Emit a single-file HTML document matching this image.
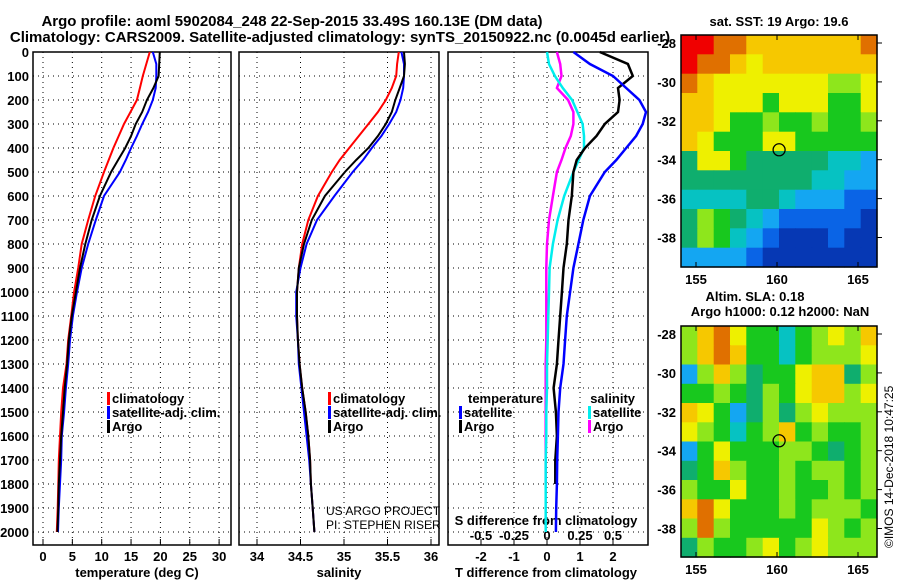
<!DOCTYPE html>
<html><head><meta charset="utf-8">
<style>
body{margin:0;background:#fff;}
svg text{font-family:"Liberation Sans",Arial,sans-serif;font-weight:bold;fill:#000;}
</style></head>
<body>
<svg id="c" width="900" height="580" viewBox="0 0 900 580" xmlns="http://www.w3.org/2000/svg">
<text x="292" y="26" font-size="15" text-anchor="middle">Argo profile: aoml 5902084_248 22-Sep-2015 33.49S 160.13E (DM data)</text>
<text x="340" y="42" font-size="15" text-anchor="middle">Climatology: CARS2009. Satellite-adjusted climatology: synTS_20150922.nc (0.0045d earlier)</text>
<text x="779" y="26" font-size="13" text-anchor="middle">sat. SST: 19 Argo: 19.6</text>
<text x="755" y="301" font-size="13" text-anchor="middle">Altim. SLA: 0.18</text>
<text x="780" y="316" font-size="13" text-anchor="middle">Argo h1000: 0.12 h2000: NaN</text>
<text transform="translate(893,548) rotate(-90)" font-size="12" style="font-weight:normal">©IMOS 14-Dec-2018 10:47:25</text>
<g id="g"></g>
</svg>
<script>
const depths=[0,50,100,150,200,250,300,350,400,450,500,600,700,800,900,1000,1100,1200,1300,1400,1500,1600,1700,1800,1900,2000];
const tempClim=[18.2,17.6,17.0,16.5,16.0,14.9,13.8,12.9,12.0,11.2,10.4,8.9,7.7,6.6,6.0,5.3,4.8,4.3,4.0,3.4,3.1,2.9,2.7,2.6,2.5,2.35];
const tempSat=[18.7,19.3,19.3,19.2,18.7,17.9,16.9,16.0,15.0,14.1,13.1,10.4,9.0,7.7,6.6,5.8,5.1,4.6,4.3,3.9,3.6,3.2,3.1,2.9,2.7,2.55];
const tempArgo=[19.9,19.8,19.7,18.8,17.7,16.9,15.8,15.0,14.0,12.8,11.6,9.7,8.3,7.2,6.3,5.6,4.9,4.4,4.1,3.7,3.4,3.1,2.9,2.7,2.6,2.45];
const salClim=[35.63,35.61,35.60,35.55,35.48,35.39,35.28,35.17,35.06,34.95,34.86,34.70,34.59,34.52,34.48,34.46,34.46,34.47,34.49,34.52,34.56,34.59,34.61,34.62,34.64,34.66];
const salSat=[35.66,35.69,35.69,35.68,35.65,35.60,35.52,35.43,35.32,35.22,35.10,34.89,34.69,34.57,34.50,34.45,34.45,34.47,34.48,34.51,34.54,34.57,34.60,34.62,34.64,34.66];
const salArgo=[35.69,35.70,35.69,35.64,35.59,35.55,35.48,35.39,35.28,35.14,35.01,34.78,34.63,34.54,34.48,34.46,34.46,34.47,34.49,34.52,34.56,34.59,34.61,34.62,34.64,34.66];
const dTSat=[0.8,1.3,2.0,2.4,2.8,3.0,2.9,2.7,2.4,2.1,1.75,1.3,1.1,0.95,0.8,0.7,0.6,0.55,0.5,0.4,0.35,0.33,0.31,0.3,0.28,0.27];
const dTArgo=[1.6,2.45,2.6,2.15,2.2,2.15,1.75,1.5,1.15,0.9,0.8,0.75,0.65,0.6,0.5,0.45,0.4,0.35,0.3,0.2,0.27,0.3,0.25,0.25];
const dSSat=[0,0.015,0.06,0.12,0.19,0.23,0.27,0.28,0.28,0.24,0.2,0.13,0.08,0.045,0.02,0.015,0.01,0.005,0,0,-0.005,-0.005,-0.01,-0.01,-0.01,-0.01];
const dSArgo=[0.075,0.1,0.11,0.075,0.16,0.2,0.2,0.18,0.14,0.11,0.075,0.045,0.015,0,-0.005,-0.005,-0.005,-0.005,-0.01,-0.01,-0.01,-0.01,-0.01,-0.01];
const depthTicks=[0,100,200,300,400,500,600,700,800,900,1000,1100,1200,1300,1400,1500,1600,1700,1800,1900,2000];
const tempTicks=[0,5,10,15,20,25,30];
const salTicks=[34,34.5,35,35.5,36];
const salTickLabels=["34","34.5","35","35.5","36"];
const dTTicks=[-2,-1,0,1,2];
const dSTicks=[-0.5,-0.25,0,0.25,0.5];
const dSTickLabels=["-0.5","-0.25","0","0.25","0.5"];
const lonTicks=[155,160,165];
const latTicks=[-28,-30,-32,-34,-36,-38];
const sstGrid=[
[10,10,9,9,8,8,8,8,8,8,8,9],
[10,9,9,8,7,8,8,8,8,8,8,8],
[9,8,7,7,7,7,7,7,7,6,6,7],
[8,8,7,7,7,5,7,7,7,5,5,7],
[8,8,7,5,5,6,5,5,6,5,5,6],
[8,7,5,5,5,7,7,5,5,5,5,5],
[4,7,7,5,4,4,4,4,4,3,3,2],
[4,4,4,4,4,4,4,4,3,3,2,2],
[3,3,3,3,4,4,3,2,2,2,1,1],
[4,6,5,4,3,2,1,1,1,1,1,0],
[4,6,5,3,2,1,0,0,0,1,0,0],
[2,2,2,2,1,0,0,0,0,0,0,0]];
const slaGrid=[
[6,8,9,7,5,5,3,5,6,7,6,8],
[6,8,9,8,5,5,3,5,6,6,6,7],
[2,6,8,6,4,5,5,7,8,8,4,6],
[5,5,6,5,4,6,5,7,8,8,6,7],
[8,7,5,2,4,6,4,6,7,6,6,6],
[7,6,5,3,5,6,8,5,6,5,5,6],
[2,5,7,5,5,5,6,6,5,4,5,6],
[4,5,8,6,5,5,6,5,6,6,5,6],
[6,5,5,7,5,5,6,5,5,6,5,6],
[8,9,7,5,5,5,6,5,6,6,6,5],
[6,9,6,5,5,5,5,5,7,6,5,6],
[4,6,5,5,6,7,5,6,7,6,6,6]];
const palette=["#0638b4","#0a64e6","#14a6f2","#06c2c2","#0fae6e","#18c81e","#8ee61c","#eef000","#f6c800","#e07000","#f00000"];

const NS="http://www.w3.org/2000/svg";
const G=document.getElementById('g');
function el(tag,attrs,parent){const e=document.createElementNS(NS,tag);for(const k in attrs)e.setAttribute(k,attrs[k]);(parent||G).appendChild(e);return e;}
const yD=d=>52+d*0.24;
const P1={l:33,r:231},P2={l:239,r:439},P3={l:448,r:648};
const xT=v=>43+v*5.87;
const xS=v=>257+(v-34)*87;
const xdT=v=>547+v*33;
const xdS=v=>547+v*132;

function frame(p,name){
  const r=el('rect',{x:p.l,y:52,width:p.r-p.l,height:493,fill:'none',stroke:'#000','stroke-width':1.5});
  
  
  depthTicks.forEach(d=>{
    const l=el('line',{x1:p.l,x2:p.r,y1:yD(d),y2:yD(d),stroke:'#000','stroke-width':1,'stroke-dasharray':'1,4'});
    
    
  });
}
function vgrid(ticks,fx,p,labels,ly,name){
  ticks.forEach((t,i)=>{
    const x=fx(t);
    const l=el('line',{x1:x,x2:x,y1:52,y2:545,stroke:'#000','stroke-width':1,'stroke-dasharray':'1,4'});
    
    
    const tk=el('line',{x1:x,x2:x,y1:539,y2:545,stroke:'#000'});
    
    
    const tx=el('text',{x:x,y:ly,'font-size':13,'text-anchor':'middle'});
    tx.textContent=labels?labels[i]:String(t);
    
    
  });
}
frame(P1,'temperature-panel');frame(P2,'salinity-panel');frame(P3,'difference-panel');
vgrid(tempTicks,xT,P1,null,561,'temperature-x');
vgrid(salTicks,xS,P2,salTickLabels,561,'salinity-x');
vgrid(dTTicks,xdT,P3,null,561,'t-diff-x');
dSTicks.forEach((t,i)=>{
  const tx=el('text',{x:xdS(t),y:540,'font-size':13,'text-anchor':'middle'});
  tx.textContent=dSTickLabels[i];
  
  
});
depthTicks.forEach(d=>{
  const tx=el('text',{x:29,y:yD(d)+5,'font-size':13,'text-anchor':'end'});
  tx.textContent=String(d);
  
  
});
function label(x,y,s,name,size,anchor,weight){
  const t=el('text',{x:x,y:y,'font-size':size||13,'text-anchor':anchor||'start'});
  if(weight)t.setAttribute('style','font-weight:'+weight);
  t.textContent=s;
  
  
}
label(137,577,'temperature (deg C)','temperature-axis-title',13,'middle');
label(339,577,'salinity','salinity-axis-title',13,'middle');
label(546,577,'T difference from climatology','t-diff-axis-title',13,'middle');
label(546,525,'S difference from climatology','s-diff-axis-title',13,'middle');
label(326,515,'US ARGO PROJECT','project-credit',12,'start','normal');
label(326,529,'PI: STEPHEN RISER','pi-credit',12,'start','normal');

function line(vals,fx,color,w,name){
  const pts=vals.map((v,i)=>fx(v).toFixed(1)+','+yD(depths[i]).toFixed(1)).join(' ');
  const p=el('polyline',{points:pts,fill:'none',stroke:color,'stroke-width':w});
  
  
}
line(tempClim,xT,'#f00',2,'temperature-climatology-line');
line(tempSat,xT,'#00f',2,'temperature-satellite-line');
line(tempArgo,xT,'#000',2,'temperature-argo-line');
line(salClim,xS,'#f00',2,'salinity-climatology-line');
line(salSat,xS,'#00f',2,'salinity-satellite-line');
line(salArgo,xS,'#000',2,'salinity-argo-line');
line(dSArgo,xdS,'#f0f',2.5,'s-diff-argo-line');
line(dSSat,xdS,'#0ee',2.5,'s-diff-satellite-line');
line(dTArgo,xdT,'#000',2.5,'t-diff-argo-line');
line(dTSat,xdT,'#00f',2.5,'t-diff-satellite-line');

function legend(x,y,color,text,name){
  const b=el('rect',{x:x,y:y-11,width:3,height:13,fill:color});
  
  
  label(x+5,y,text,name+'-label');
}
legend(107,403,'#f00','climatology','temp-legend-climatology');
legend(107,417,'#00f','satellite-adj. clim.','temp-legend-satellite');
legend(107,431,'#000','Argo','temp-legend-argo');
legend(328,403,'#f00','climatology','sal-legend-climatology');
legend(328,417,'#00f','satellite-adj. clim.','sal-legend-satellite');
legend(328,431,'#000','Argo','sal-legend-argo');
label(468,403,'temperature','diff-legend-temperature-header');
legend(459,417,'#00f','satellite','diff-legend-t-satellite');
legend(459,431,'#000','Argo','diff-legend-t-argo');
label(635,403,'salinity','diff-legend-salinity-header',13,'end');
legend(588,417,'#0ee','satellite','diff-legend-s-satellite');
legend(588,431,'#f0f','Argo','diff-legend-s-argo');

function map(grid,top,bottom,lat28y,name){
  const L=681,R=877;
  const xl=lon=>696+(lon-155)*16.2;
  const yl=lat=>lat28y+(-28-lat)*19.45;
  const cw=(R-L)/12,ch=(bottom-top)/12;
  grid.forEach((row,i)=>row.forEach((v,j)=>{
    const r=el('rect',{x:(L+j*cw).toFixed(1),y:(top+i*ch).toFixed(1),width:(cw+0.6).toFixed(1),height:(ch+0.6).toFixed(1),fill:palette[v]});
    
    
  }));
  const f=el('rect',{x:L,y:top,width:R-L,height:bottom-top,fill:'none',stroke:'#000','stroke-width':1.5});
  
  
  lonTicks.forEach(lo=>{
    const x=xl(lo);
    el('line',{x1:x,x2:x,y1:top,y2:top+5,stroke:'#000'});
    el('line',{x1:x,x2:x,y1:bottom-5,y2:bottom,stroke:'#000'});
    const t=el('text',{x:x,y:bottom+17,'font-size':13,'text-anchor':'middle'});
    t.textContent=String(lo);
    
    
  });
  latTicks.forEach(la=>{
    const y=yl(la);
    el('line',{x1:R,x2:R+5,y1:y,y2:y,stroke:'#000'});
    const t=el('text',{x:676,y:y+5,'font-size':13,'text-anchor':'end'});
    t.textContent=String(la);
    
    
  });
  const c=el('circle',{cx:xl(160.13),cy:yl(-33.49),r:6,fill:'none',stroke:'#000','stroke-width':1.3});
  
  
}
map(sstGrid,35,267,43,'sst-map');
map(slaGrid,326,557,334,'sla-map');
</script>
</body></html>
